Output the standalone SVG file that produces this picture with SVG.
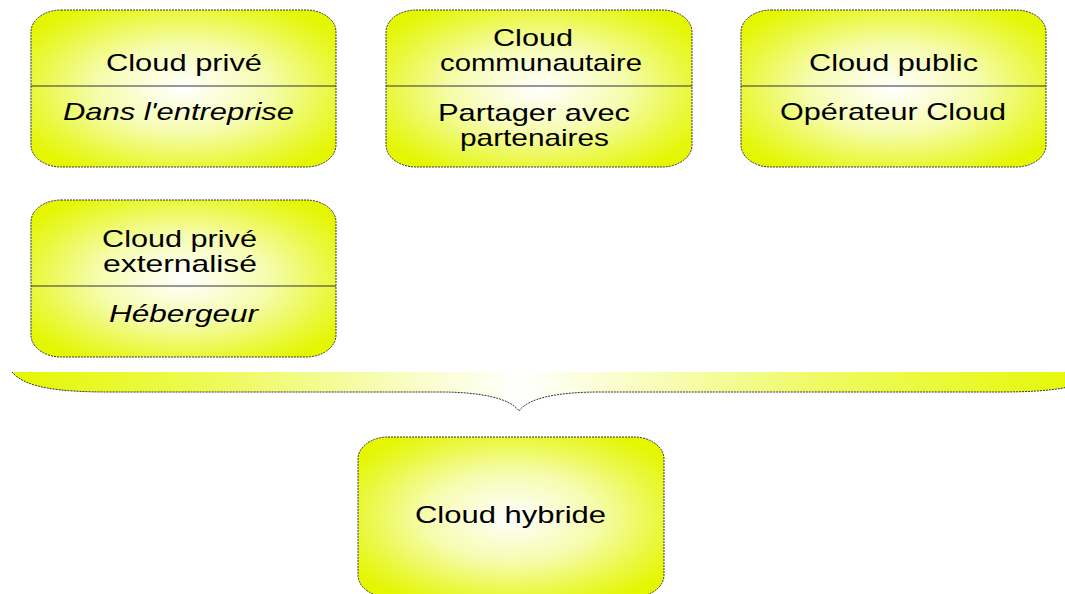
<svg xmlns="http://www.w3.org/2000/svg" width="1065" height="594" viewBox="0 0 1065 594">
<style>
.box{fill:url(#rg);stroke:#333;stroke-width:1;stroke-dasharray:2 1}
.div{stroke:#333;stroke-width:1}
.t{font-family:"Liberation Sans",Arial,sans-serif;font-size:24px;fill:#000}
.i{font-style:italic}
.brace{fill:none;stroke:#333;stroke-width:1;stroke-dasharray:2 1}
</style>
<defs>
<radialGradient id="rg" cx="0.5" cy="0.5" r="0.62">
<stop offset="0" stop-color="#ffffff"/>
<stop offset="0.45" stop-color="#f6fcae"/>
<stop offset="0.8" stop-color="#e9f83a"/>
<stop offset="1" stop-color="#e4f600"/>
</radialGradient>
<linearGradient id="lg" gradientUnits="userSpaceOnUse" x1="12" y1="0" x2="1100" y2="0">
<stop offset="0" stop-color="#e4f800"/>
<stop offset="0.2" stop-color="#eefa60"/>
<stop offset="0.466" stop-color="#ffffff"/>
<stop offset="0.75" stop-color="#eefa60"/>
<stop offset="1" stop-color="#e4f800"/>
</linearGradient>
</defs>

<g id="cloud-prive">
<rect class="box" x="31" y="10" width="305" height="157" rx="30" ry="22"/>
<line class="div" x1="31" y1="86" x2="336" y2="86"/>
<text class="t" x="106" y="71" textLength="156" lengthAdjust="spacingAndGlyphs">Cloud privé</text>
<text class="t i" x="63" y="120" textLength="231" lengthAdjust="spacingAndGlyphs">Dans l'entreprise</text>
</g>

<g id="cloud-communautaire">
<rect class="box" x="386" y="10" width="306" height="157" rx="30" ry="22"/>
<line class="div" x1="386" y1="86" x2="692" y2="86"/>
<text class="t" x="493" y="46" textLength="80" lengthAdjust="spacingAndGlyphs">Cloud</text>
<text class="t" x="440" y="71" textLength="202" lengthAdjust="spacingAndGlyphs">communautaire</text>
<text class="t" x="438" y="121" textLength="192" lengthAdjust="spacingAndGlyphs">Partager avec</text>
<text class="t" x="460" y="146" textLength="149" lengthAdjust="spacingAndGlyphs">partenaires</text>
</g>

<g id="cloud-public">
<rect class="box" x="741" y="10" width="305" height="157" rx="30" ry="22"/>
<line class="div" x1="741" y1="86" x2="1046" y2="86"/>
<text class="t" x="809" y="71" textLength="169" lengthAdjust="spacingAndGlyphs">Cloud public</text>
<text class="t" x="780" y="120" textLength="226" lengthAdjust="spacingAndGlyphs">Opérateur Cloud</text>
</g>

<g id="cloud-prive-externalise">
<rect class="box" x="31" y="200" width="305" height="157" rx="30" ry="22"/>
<line class="div" x1="31" y1="286" x2="336" y2="286"/>
<text class="t" x="102" y="247" textLength="155" lengthAdjust="spacingAndGlyphs">Cloud privé</text>
<text class="t" x="103" y="272" textLength="154" lengthAdjust="spacingAndGlyphs">externalisé</text>
<text class="t i" x="109" y="322" textLength="149" lengthAdjust="spacingAndGlyphs">Hébergeur</text>
</g>

<g id="connectors">
<path d="M12,372 L1100,372 C1085,388 1050,392 1000,392 L600,392 C558,392 528,398 519,411 C510,398 480,392 440,392 L110,392 C60,392 25,388 12,372 Z" fill="url(#lg)" stroke="none"/>
<path class="brace" d="M12,372 C25,388 60,392 110,392 L440,392 C480,392 510,398 519,411 C528,398 558,392 600,392 L1000,392 C1050,392 1085,388 1100,372"/>
</g>

<g id="cloud-hybride">
<rect class="box" x="358" y="437" width="306" height="160" rx="30" ry="22"/>
<text class="t" x="415" y="523" textLength="191" lengthAdjust="spacingAndGlyphs">Cloud hybride</text>
</g>
</svg>
